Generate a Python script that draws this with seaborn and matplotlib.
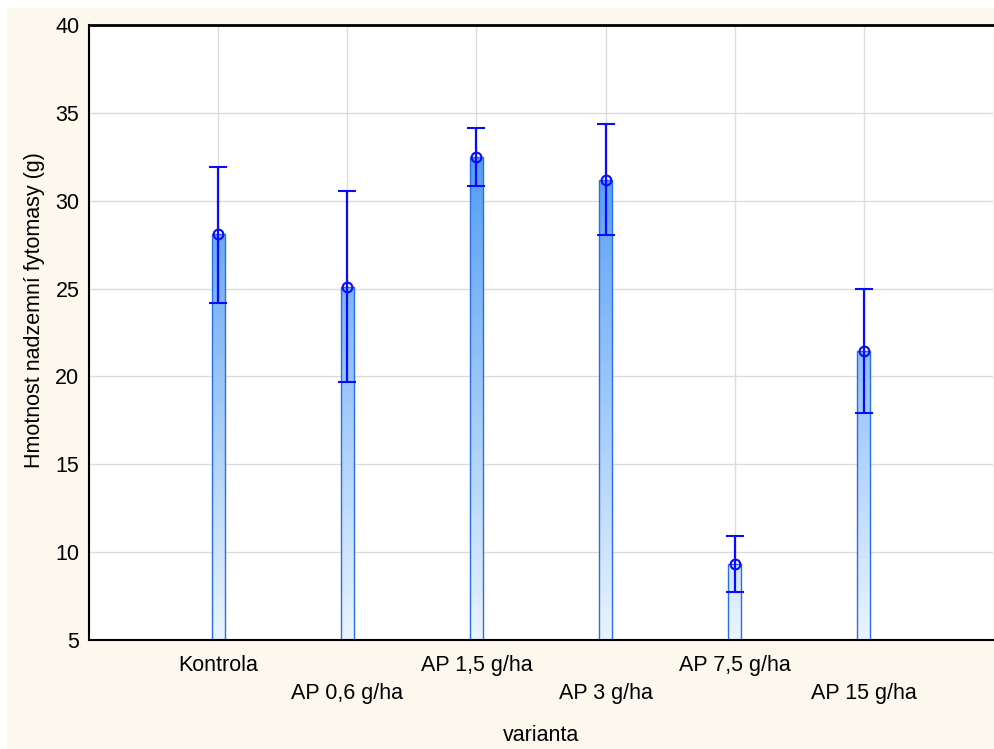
import numpy as np
import pandas as pd
import matplotlib
matplotlib.use("Agg")
import matplotlib.pyplot as plt
import matplotlib.transforms as mtransforms
from matplotlib.colors import LinearSegmentedColormap
from matplotlib.patches import Rectangle
import seaborn as sns

# donnees
varianty = ["Kontrola", "AP 0,6 g/ha", "AP 1,5 g/ha", "AP 3 g/ha", "AP 7,5 g/ha", "AP 15 g/ha"]
prumer = [28.1, 25.1, 32.5, 31.2, 9.3, 21.45]
dolni = [24.2, 19.7, 30.85, 28.05, 7.75, 17.9]
horni = [31.9, 30.55, 34.15, 34.35, 10.9, 25.0]

df = pd.DataFrame({"varianta": varianty, "hmotnost": prumer})

sns.set_style("white")
plt.rcParams["font.family"] = ["Liberation Sans", "DejaVu Sans"]

fig = plt.figure(figsize=(9.94, 7.49), dpi=100, facecolor="white")
# fond beige autour du graphique
fig.patches.append(Rectangle((7 / 994, 0), 1, 1 - 8 / 749, transform=fig.transFigure,
                             facecolor="#fdf8ee", edgecolor="none", zorder=-10))
ax = fig.add_axes([89 / 994, 1 - 640 / 749, (993 - 89) / 994, (640 - 25) / 749])
ax.set_zorder(1)
ax.set_facecolor("white")

sns.barplot(data=df, x="varianta", y="hmotnost", width=0.1, errorbar=None,
            color="#4a9cff", edgecolor="#2a6fe0", linewidth=1.0, ax=ax, zorder=2)

ax.set_xlim(-1, 6.0)
ax.set_ylim(5, 40)

# degrade vertical dans chaque barre
cmap = LinearSegmentedColormap.from_list("grad", ["#eaf4ff", "#2a84f2"])
grad = np.linspace(0, 1, 256).reshape(-1, 1)
for p in ax.patches:
    x0 = p.get_x()
    x1 = x0 + p.get_width()
    im = ax.imshow(grad, cmap=cmap, origin="lower", aspect="auto",
                   extent=[x0, x1, 5, 40], zorder=2.1)
    im.set_clip_path(p)
    p.set_facecolor("none")
    p.set_zorder(2.2)

ax.set_xlim(-1, 6.0)
ax.set_ylim(5, 40)

# barres d'erreur
pos = np.arange(len(varianty))
prum = np.array(prumer)
yerr = [prum - np.array(dolni), np.array(horni) - prum]
ax.errorbar(pos, prum, yerr=yerr, fmt="o", color="#0a0aff", mfc="none", mec="#0a0aff",
            markersize=7, markeredgewidth=1.5, elinewidth=1.6, capsize=6.5, capthick=1.6,
            zorder=3)

ax.set_yticks([5, 10, 15, 20, 25, 30, 35, 40])
ax.grid(True, color="#dcdcdc", linewidth=1)
ax.set_axisbelow(True)
ax.tick_params(axis="both", direction="in", length=3, width=1, colors="black",
               labelsize=15.5, pad=11)
ax.tick_params(axis="y", pad=7)

for s in ["left", "bottom", "top"]:
    ax.spines[s].set_visible(True)
    ax.spines[s].set_color("black")
    ax.spines[s].set_linewidth(1.5)
ax.spines["top"].set_linewidth(2)
ax.spines["right"].set_visible(False)

# etiquettes decalees une sur deux
for i, t in enumerate(ax.get_xticklabels()):
    if i % 2 == 1:
        t.set_transform(t.get_transform() + mtransforms.ScaledTranslation(0, -0.28, fig.dpi_scale_trans))

ax.set_xlabel("varianta", fontsize=15.5, color="black")
ax.xaxis.set_label_coords(0.5, -0.138)
ax.set_ylabel("Hmotnost nadzemní fytomasy (g)", fontsize=15.5, color="black")
ax.yaxis.set_label_coords(-0.049, 0.537)

fig.savefig("out.png", dpi=100, facecolor=fig.get_facecolor())
